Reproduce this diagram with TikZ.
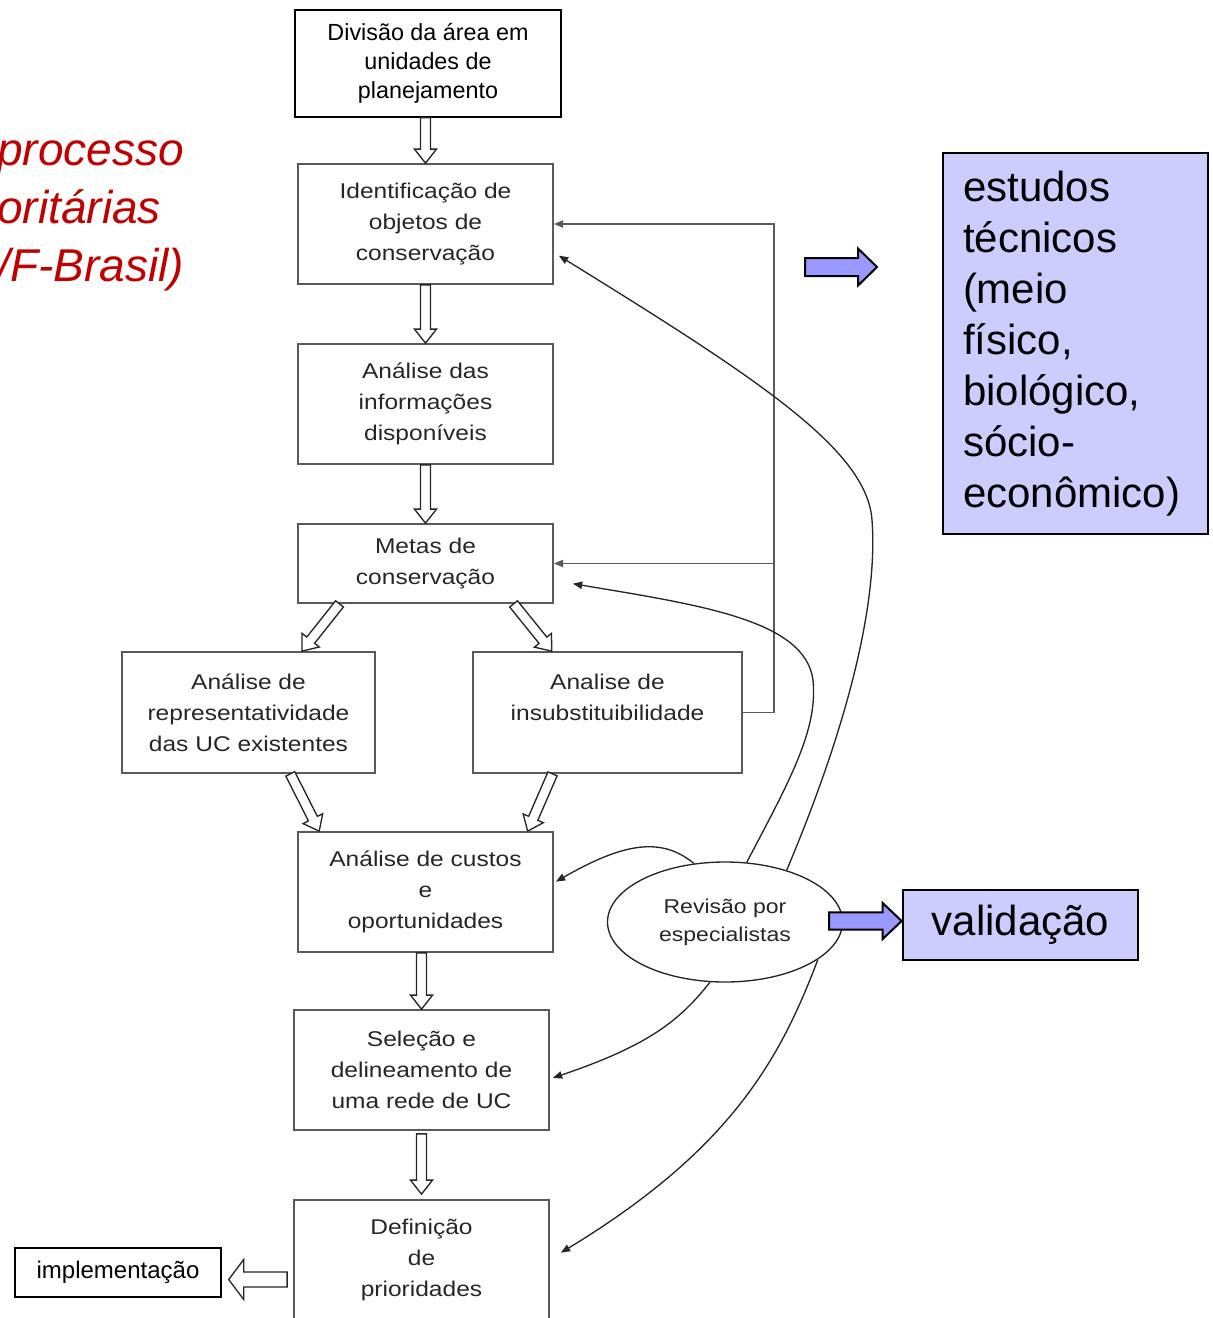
\documentclass[tikz,border=0pt]{standalone}
\usepackage{fontspec}
\setmainfont{Liberation Sans}
\newfontfamily\scanfont[FakeStretch=1.15]{Liberation Sans}
\usetikzlibrary{calc, arrows.meta, shapes.geometric}
\definecolor{lavender}{HTML}{CCCCFF}
\definecolor{arrowblue}{HTML}{9999FF}
\definecolor{darkred}{HTML}{C00000}
\definecolor{scangray}{HTML}{5A5A5A}
\definecolor{scantext}{HTML}{262626}

\newcommand{\blockarrow}[6]{%
  \coordinate (ba) at (#2);
  \coordinate (bb) at (#3);
  \coordinate (bh) at ($(bb)!#6!(ba)$);
  \draw[#1] ($(ba)!#4!90:(bb)$) -- ($(bh)!#4!-90:(ba)$) -- ($(bh)!#5!-90:(ba)$) -- (bb)
    -- ($(bh)!#5!90:(ba)$) -- ($(bh)!#4!90:(ba)$) -- ($(ba)!#4!-90:(bb)$) -- cycle;}

\begin{document}
\begin{tikzpicture}[x=0.75pt, y=-0.75pt,
  stage/.style={draw=scangray, line width=1.3pt, minimum width=191.25pt, minimum height=90pt,
    inner sep=0pt, align=center, text=scantext, font=\scanfont\fontsize{16}{23.25}\selectfont},
  startbox/.style={draw=black, line width=1pt, align=center, inner sep=0pt},
  notebox/.style={draw=black, line width=2pt, fill=lavender, inner sep=0pt,
    font=\fontsize{31.5}{38.25}\selectfont},
  hollow/.style={draw=black!85, line width=1pt, fill=white},
  bluearrow/.style={draw=black, line width=1.5pt, fill=arrowblue},
  feed/.style={draw=scangray, line width=1.2pt, -{Triangle[length=7pt, width=5.5pt]}},
  review/.style={draw=black!85, line width=1pt, -{Triangle[length=7pt, width=5.5pt]}}]
\useasboundingbox (0,0) rectangle (1213,1318);
\clip (0,0) rectangle (1213,1318);

\node[anchor=west, align=left, inner sep=0pt, text=darkred,
  font=\itshape\fontsize{34.5}{43.5}\selectfont] (titulo) at (-3,216) {processo\\oritárias\\/F-Brasil)};

\node[startbox, minimum width=199.5pt, minimum height=80.25pt, font=\fontsize{17.5}{21.75}\selectfont]
  (divisao) at (428,63.5) {Divisão da área em\\unidades de\\planejamento};
\node[stage] (ident) at (425.5,224) {Identificação de\\objetos de\\conservação};
\node[stage] (analise) at (425.5,404) {Análise das\\informações\\disponíveis};
\node[stage, minimum height=59.25pt] (metas) at (425.5,563.5) {Metas de\\conservação};
\node[stage, minimum width=189.75pt, minimum height=90.75pt] (repres) at (248.5,712.5)
  {Análise de\\representatividade\\das UC existentes};
\node[stage, minimum width=201.75pt, minimum height=90.75pt] (insubst) at (607.5,712.5)
  {Analise de\\insubstituibilidade\\~};
\node[stage] (custos) at (425.5,892) {Análise de custos\\e\\oportunidades};
\node[stage] (selecao) at (421.5,1070) {Seleção e\\delineamento de\\uma rede de UC};
\node[stage] (definicao) at (421.5,1260) {Definição\\de\\prioridades};
\node[startbox, minimum width=154.5pt, minimum height=36.75pt, font=\fontsize{18}{22}\selectfont]
  (implementacao) at (118,1272.5) {implementação};

\node[ellipse, draw=black!85, line width=1pt, minimum width=176.25pt, minimum height=90pt,
  inner sep=0pt, align=center, text=scantext, font=\scanfont\fontsize{15}{21}\selectfont]
  (revisao) at (725,922) {Revisão por\\especialistas};

\node[notebox, minimum width=198.75pt, minimum height=285.75pt, text width=168.75pt, align=left]
  (estudos) at (1075.5,343.5) {estudos\\técnicos\\(meio\\físico,\\biológico,\\sócio-\\econômico)};
\node[notebox, minimum width=176.25pt, minimum height=52.5pt] (validacao) at (1020.5,925) {validação};

\blockarrow{hollow}{ident.north |- divisao.south}{ident.north}{3.75pt}{8.25pt}{10.5pt}
\blockarrow{hollow}{ident.south}{analise.north}{3.75pt}{8.25pt}{10.5pt}
\blockarrow{hollow}{analise.south}{metas.north}{3.75pt}{8.25pt}{10.5pt}
\blockarrow{hollow}{$(metas.south west)!0.165!(metas.south east)$}{$(repres.north west)!0.71!(repres.north east)$}{3.75pt}{8.25pt}{10.5pt}
\blockarrow{hollow}{$(metas.south west)!0.843!(metas.south east)$}{$(insubst.north west)!0.294!(insubst.north east)$}{3.75pt}{8.25pt}{10.5pt}
\blockarrow{hollow}{$(repres.south west)!0.664!(repres.south east)$}{$(custos.north west)!0.086!(custos.north east)$}{3.75pt}{8.25pt}{10.5pt}
\blockarrow{hollow}{$(insubst.south west)!0.297!(insubst.south east)$}{$(custos.north west)!0.898!(custos.north east)$}{3.75pt}{8.25pt}{10.5pt}
\blockarrow{hollow}{selecao.north |- custos.south}{selecao.north}{3.75pt}{8.25pt}{10.5pt}
\blockarrow{hollow}{$(selecao.south)+(0,3)$}{$(definicao.north)+(0,-5)$}{3.75pt}{8.25pt}{10.5pt}
\blockarrow{hollow}{$(definicao.west |- implementacao.east)+(-6,7)$}{$(implementacao.east)+(7,7)$}{5.6pt}{15pt}{11.25pt}

\draw[feed] (insubst.east) -- ++(31,0) coordinate (loopc) |- (ident.east);
\draw[feed] (loopc |- metas.east) -- (metas.east);

\draw[review] (revisao.40) .. controls (850,720) and (878,600) .. (872,520)
  .. controls (867,450) and (760,380) .. ($(ident.east)!0.52!(ident.south east)+(5,0)$);
\draw[review] (revisao.70) .. controls (790,780) and (818,730) .. (813,680)
  .. controls (805,620) and (700,605) .. ($(metas.east)!0.5!(metas.south east)+(19,0)$);
\draw[review] (revisao.118) .. controls (660,835) and (620,845) .. ($(custos.east)!0.17!(custos.north east)+(2,0)$);
\draw[review] (revisao.-104) .. controls (680,1020) and (650,1045) .. ($(selecao.east)!0.13!(selecao.south east)+(3,0)$);
\draw[review] (revisao.-22) .. controls (780,1060) and (730,1150) .. ($(definicao.east)!0.12!(definicao.north east)+(11,0)$);

\coordinate (techtail) at (805,267);
\coordinate (techhead) at (877,267);
\coordinate (valtail) at (829,921);
\blockarrow{bluearrow}{techtail}{techhead}{6.75pt}{13.9pt}{14.25pt}
\blockarrow{bluearrow}{valtail}{validacao.west |- valtail}{6.4pt}{13.5pt}{14.25pt}
\end{tikzpicture}
\end{document}
